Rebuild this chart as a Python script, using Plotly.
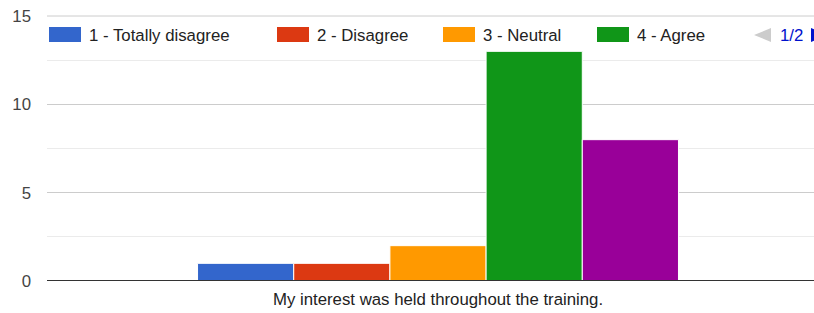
import plotly.graph_objects as go

category = "My interest was held throughout the training."
series_names = ["1 - Totally disagree", "2 - Disagree", "3 - Neutral", "4 - Agree", "5 - Totally agree"]
series_values = [1, 1, 2, 13, 8]
series_colors = ["#3366cc", "#dc3912", "#ff9900", "#109618", "#990099"]
y_ticks = [0, 5, 10, 15]
legend_page = "1/2"
visible_legend_count = 4

W, H = 814, 313
L, R, T, B = 47, 0, 16, 32
PW, PH = W - L - R, H - T - B
FONT = "Liberation Sans, Arial"
FS = 16.8

def px(x):
    return (x - L) / PW

def py(y):
    return (H - B - y) / PH

fig = go.Figure()
for name, val, col in zip(series_names, series_values, series_colors):
    fig.add_trace(go.Bar(
        x=[category], y=[val], name=name,
        marker=dict(color=col, line=dict(color="white", width=1)),
        showlegend=False,
    ))

shapes = []
annotations = []
legend_x = [49, 277, 443, 597]
for i in range(visible_legend_count):
    x0 = legend_x[i]
    shapes.append(dict(type="rect", xref="paper", yref="paper",
                       x0=px(x0), x1=px(x0 + 32), y0=py(42), y1=py(27),
                       fillcolor=series_colors[i], line=dict(width=0)))
    annotations.append(dict(xref="paper", yref="paper", x=px(x0 + 38), y=py(35),
                            text=series_names[i], showarrow=False, xanchor="left",
                            yanchor="middle",
                            font=dict(family=FONT, size=FS, color="#222222")))
# pagination
shapes.append(dict(type="path", xref="paper", yref="paper",
                   path=f"M {px(771)} {py(28)} L {px(754)} {py(35)} L {px(771)} {py(42)} Z",
                   fillcolor="#cccccc", line=dict(width=0)))
shapes.append(dict(type="path", xref="paper", yref="paper",
                   path=f"M {px(811)} {py(28)} L {px(828)} {py(35)} L {px(811)} {py(42)} Z",
                   fillcolor="#0011cc", line=dict(width=0)))
annotations.append(dict(xref="paper", yref="paper", x=px(778), y=py(35),
                        text=legend_page, showarrow=False, xanchor="left", yanchor="middle",
                        font=dict(family=FONT, size=FS, color="#0011cc")))
# top gridline and baseline
shapes.append(dict(type="line", xref="paper", yref="paper", x0=0, x1=1, y0=1, y1=1,
                   line=dict(color="#cccccc", width=1), layer="below"))
shapes.append(dict(type="line", xref="paper", yref="y", x0=0, x1=1, y0=0, y1=0,
                   line=dict(color="#333333", width=2)))

fig.update_layout(
    width=W, height=H,
    margin=dict(l=L, r=R, t=T, b=B),
    paper_bgcolor="white", plot_bgcolor="white",
    barmode="group", bargap=0.385, bargroupgap=0,
    font=dict(family=FONT, size=FS, color="#444444"),
    shapes=shapes, annotations=annotations,
    xaxis=dict(range=[-0.5, 0.4808], showgrid=False, zeroline=False, showline=False,
               ticks="", automargin=False, ticklabelstandoff=6,
               tickfont=dict(color="#222222", size=FS)),
    yaxis=dict(range=[0, 15], tickvals=y_ticks, showgrid=True, gridcolor="#cccccc",
               gridwidth=1, zeroline=False, showline=False, ticks="", automargin=False,
               ticklabelstandoff=15, tickfont=dict(color="#444444", size=FS),
               minor=dict(dtick=2.5, showgrid=True, gridcolor="#ebebeb", gridwidth=1)),
)

fig.write_html("out.html", config={"displayModeBar": False},
               post_script="document.body.style.margin='0';document.body.style.overflow='hidden';")
